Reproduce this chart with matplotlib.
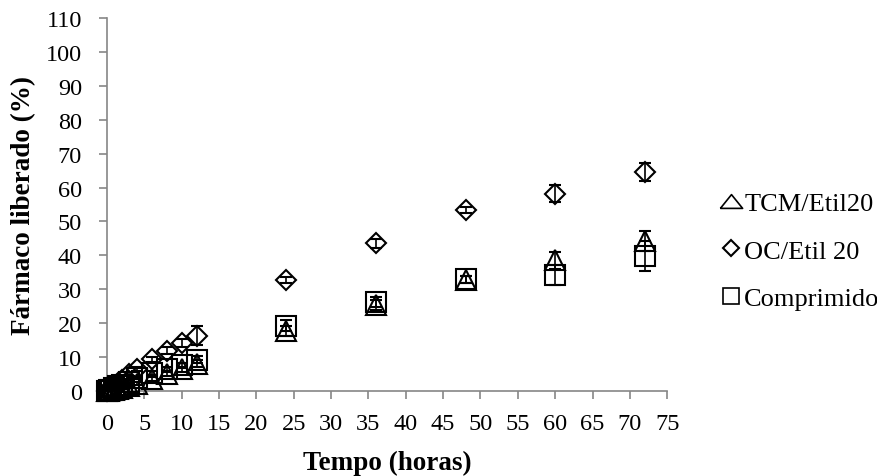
import matplotlib.pyplot as plt
from matplotlib.lines import Line2D

plt.rcParams['font.family'] = ['Liberation Serif', 'DejaVu Serif']

# tempo de coleta (horas)
tempo = [0, 0.25, 0.5, 1, 1.5, 2, 3, 4, 6, 8, 10, 12, 24, 36, 48, 60, 72]

# farmaco liberado (%) e desvio padrao
tcm = [0, 0.1, 0.2, 0.4, 0.7, 1.0, 1.6, 2.2, 3.5, 5.0, 6.4, 8.0, 17.8, 25.3, 32.8, 38.5, 44.3]
tcm_dp = [0, 0.1, 0.1, 0.2, 0.2, 0.3, 0.3, 0.4, 0.5, 0.6, 0.8, 1.0, 1.5, 1.5, 1.0, 2.5, 3.0]

oc = [0, 0.3, 0.7, 1.5, 2.3, 3.2, 5.0, 6.5, 9.3, 11.9, 14.2, 16.3, 32.7, 43.6, 53.3, 58.2, 64.5]
oc_dp = [0, 0.1, 0.2, 0.3, 0.3, 0.4, 0.5, 0.6, 0.8, 1.0, 1.2, 2.8, 0.8, 1.3, 0.9, 2.6, 2.6]

comp = [0, 0.2, 0.4, 0.9, 1.4, 1.9, 2.8, 3.8, 5.3, 6.6, 7.6, 9.2, 19.3, 26.2, 32.9, 34.3, 39.8]
comp_dp = [0, 0.1, 0.1, 0.2, 0.2, 0.3, 0.3, 0.4, 0.5, 0.6, 0.8, 1.0, 1.5, 1.5, 1.0, 3.0, 4.3]

nomes = ["TCM/Etil20", "OC/Etil 20", "Comprimido"]
series = [(tcm, tcm_dp, '^', 14), (oc, oc_dp, 'D', 10), (comp, comp_dp, 's', 14)]

fig = plt.figure(figsize=(8.78, 4.77), dpi=100)
ax = fig.add_axes([0.1219, 0.1782, 0.638, 0.782])

for (y, dp, mk, ms) in series:
    ax.errorbar(tempo, y, yerr=dp, fmt=mk, ms=ms, mfc='none', mec='black',
                mew=1.5, ecolor='black', elinewidth=1.2, capsize=4, capthick=1.2,
                clip_on=False, zorder=3)

ax.set_xlim(0, 75)
ax.set_ylim(0, 110)
ax.set_xticks(range(0, 80, 5))
ax.set_yticks(range(0, 120, 10))
for s in ['top', 'right']:
    ax.spines[s].set_visible(False)
for s in ['left', 'bottom']:
    ax.spines[s].set_color('#868686')
    ax.spines[s].set_linewidth(1.2)
ax.tick_params(colors='#868686', labelcolor='black', labelsize=17.5, length=6, width=1.2)
ax.tick_params(axis='y', pad=12)
ax.tick_params(axis='x', pad=10)

ax.set_xlabel("Tempo (horas)", fontsize=19.5, fontweight='bold', labelpad=11)
ax.set_ylabel("Fármaco liberado (%)", fontsize=19.5, fontweight='bold', labelpad=7)

# marcadores da legenda (triangulo achatado como no original)
tri = [(-1, -0.62), (1, -0.62), (0, 0.62), (-1, -0.62)]
handles = [
    Line2D([], [], ls='none', marker=tri, ms=16, mfc='none', mec='black', mew=1.2),
    Line2D([], [], ls='none', marker='D', ms=8, mfc='none', mec='black', mew=1.5),
    Line2D([], [], ls='none', marker='s', ms=12, mfc='none', mec='black', mew=1.2),
]
fig.legend(handles, nomes, loc='center left', bbox_to_anchor=(0.805, 0.472),
           frameon=False, fontsize=19, handlelength=0.8, handletextpad=0.12,
           labelspacing=0.92, borderpad=0)

fig.savefig("out.png", dpi=100)
